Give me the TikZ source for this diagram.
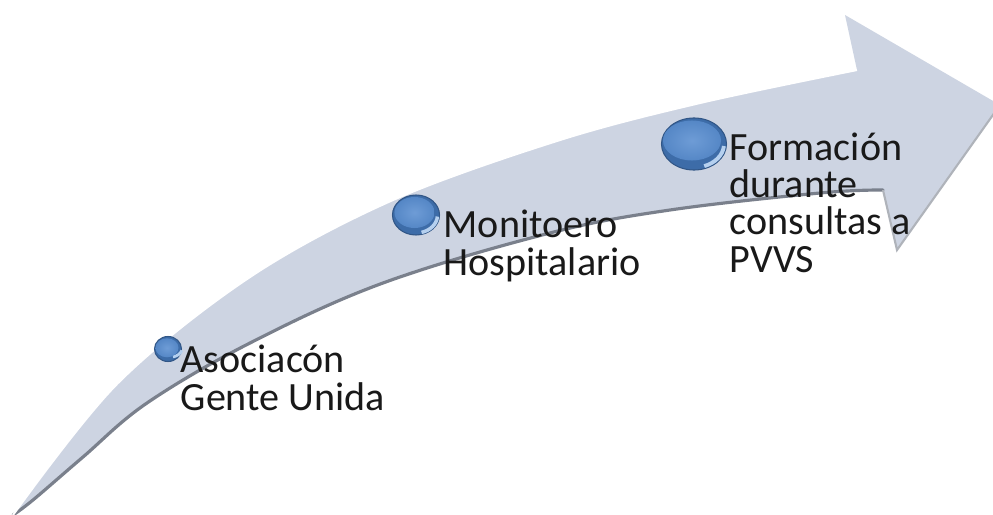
\documentclass[tikz,border=0pt]{standalone}
\usepackage{fontspec}
\setmainfont{Carlito}
\usetikzlibrary{shapes.geometric}
\definecolor{arrowfill}{HTML}{CDD4E2}
\definecolor{arrowedge}{HTML}{7A808C}
\definecolor{rimblue}{HTML}{3D6CA8}
\definecolor{faceblue}{HTML}{5587C6}
\definecolor{facelight}{HTML}{6E9CD6}
\definecolor{rimlight}{HTML}{B5D0EF}
\begin{document}
\begin{tikzpicture}[x=0.01cm,y=-0.01cm,
  lbl/.style={anchor=base west,inner sep=0pt,align=left,text=black!90,
    font=\fontsize{11.4pt}{10.6pt}\selectfont},
  disc/.style={ellipse,inner sep=0pt,fill=rimblue,draw=rimblue!80!black,line width=0.3pt}]
\useasboundingbox (0,0) rectangle (993,515);
\fill[white] (0,0) rectangle (993,515);
% arrow body
\fill[arrowfill]
  plot[smooth,tension=0.55] coordinates {(13,515) (117,384) (250,277) (393,200) (560,140) (700,103) (857,70)}
  -- (845,15) -- (1000,105) -- (897,250) -- (883,190)
  -- plot[smooth,tension=0.6] coordinates {(820,193) (670,210) (550,233) (383,283) (250,343) (147,403) (83,457) (33,500) (13,515)}
  -- cycle;
% shadow along lower edge
\draw[arrowedge,line width=0.9pt,line cap=round]
  plot[smooth,tension=0.6] coordinates {(883,190) (820,193) (670,210) (550,233) (383,283) (250,343) (147,403) (83,457) (33,500) (13,515)};
\draw[arrowedge!60,line width=0.6pt] (883,190) -- (897,250) -- (1000,105);
\draw[white,line width=0.6pt]
  plot[smooth,tension=0.55] coordinates {(13,515) (117,384) (250,277) (393,200) (560,140) (700,103) (857,70)};
% discs
\node[disc,minimum width=0.27cm,minimum height=0.25cm] (b1) at (168,349) {};
\node[disc,minimum width=0.47cm,minimum height=0.40cm] (b2) at (416,215) {};
\node[disc,minimum width=0.65cm,minimum height=0.52cm] (b3) at (694,144) {};
% disc faces and rim highlights
\draw[rimlight,line width=0.8pt] ([shift={(0.03cm,0.02cm)}]b1.center) ++(-20:0.115cm and 0.1cm) arc[start angle=-20,end angle=-80,x radius=0.115cm,y radius=0.1cm];
\shade[inner color=facelight,outer color=faceblue] ([shift={(-0.01cm,0.012cm)}]b1.center) ellipse[x radius=0.115cm,y radius=0.095cm];
\draw[rimlight,line width=1pt] (b2.center) ++(-5:0.215cm and 0.18cm) arc[start angle=-5,end angle=-75,x radius=0.215cm,y radius=0.18cm];
\shade[inner color=facelight,outer color=faceblue] ([shift={(-0.015cm,0.025cm)}]b2.center) ellipse[x radius=0.2cm,y radius=0.155cm];
\draw[rimlight,line width=1.1pt] (b3.center) ++(-5:0.3cm and 0.235cm) arc[start angle=-5,end angle=-70,x radius=0.3cm,y radius=0.235cm];
\shade[inner color=facelight,outer color=faceblue] ([shift={(-0.02cm,0.035cm)}]b3.center) ellipse[x radius=0.29cm,y radius=0.2cm];
% labels
\node[lbl] (t1) at (180,410) {Asociacón\\Gente Unida};
\node[lbl] (t2) at (443,275) {Monitoero\\Hospitalario};
\node[lbl] (t3) at (729,272) {Formación\\durante\\consultas a\\PVVS};
\end{tikzpicture}
\end{document}
